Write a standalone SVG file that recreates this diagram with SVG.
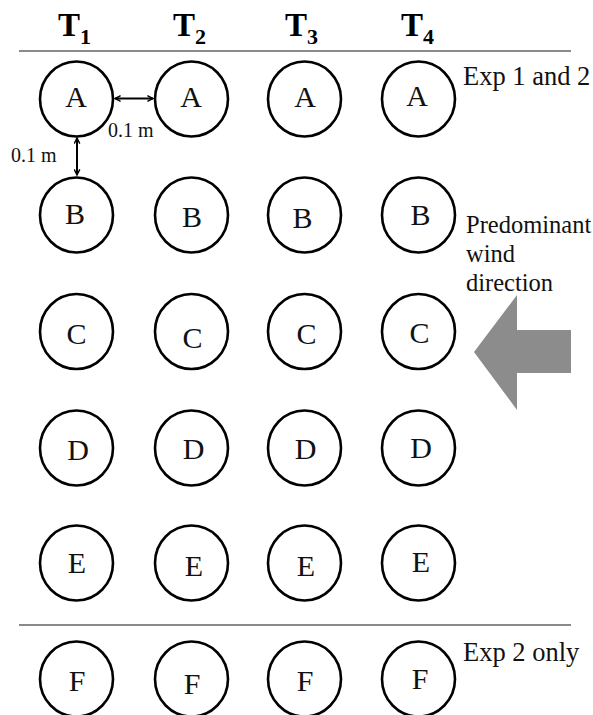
<svg xmlns="http://www.w3.org/2000/svg" width="593" height="715" viewBox="0 0 593 715">
  <style>
    .plot ellipse { fill: #ffffff; stroke: #000000; stroke-width: 2.6; }
    .plot text { font-family: "Liberation Serif", "Times New Roman", serif; font-size: 30px; fill: #111111; text-anchor: middle; }
    .head { font-family: "Liberation Serif", "Times New Roman", serif; font-weight: bold; font-size: 33px; fill: #000000; }
    .head tspan { font-size: 22px; }
    .note { font-family: "Liberation Serif", "Times New Roman", serif; font-size: 26.5px; fill: #111111; }
    .wind { font-family: "Liberation Serif", "Times New Roman", serif; font-size: 24.5px; fill: #111111; }
    .dist { font-family: "Liberation Serif", "Times New Roman", serif; font-size: 20px; fill: #111111; }
    .rule { stroke: #8a8a8a; stroke-width: 2; }
    .dim { stroke: #000000; stroke-width: 2; fill: none; marker-start: url(#tip); marker-end: url(#tip); }
  </style>
  <defs>
    <marker id="tip" viewBox="0 0 10 10" refX="9" refY="5" markerWidth="7" markerHeight="7" orient="auto-start-reverse" markerUnits="userSpaceOnUse">
      <path d="M1,1 L9,5 L1,9" fill="none" stroke="#000000" stroke-width="2"/>
    </marker>
  </defs>
  <rect width="593" height="715" fill="#ffffff"/>

  <!-- column headings -->
  <text class="head" x="58" y="36">T<tspan dy="8">1</tspan></text>
  <text class="head" x="173" y="36">T<tspan dy="8">2</tspan></text>
  <text class="head" x="285" y="36">T<tspan dy="8">3</tspan></text>
  <text class="head" x="401" y="36">T<tspan dy="8">4</tspan></text>

  <!-- separator rules -->
  <line class="rule" x1="19" y1="51" x2="571" y2="51"/>
  <line class="rule" x1="19" y1="625" x2="571" y2="625"/>

  <!-- side notes -->
  <text class="note" x="463" y="85">Exp 1 and 2</text>
  <text class="wind" x="466" y="233">Predominant</text>
  <text class="wind" x="466" y="262">wind</text>
  <text class="wind" x="466" y="291">direction</text>
  <text class="note" x="463" y="661">Exp 2 only</text>

  <!-- wind arrow -->
  <polygon points="474,352 517,295 517,330 571,330 571,373 517,373 517,410" fill="#8c8c8c"/>

  <!-- row A -->
  <g id="A1" class="plot"><ellipse cx="76.5" cy="99" rx="36.5" ry="37.5"/><text x="76" y="107">A</text></g>
  <g id="A2" class="plot"><ellipse cx="191.5" cy="99" rx="36.5" ry="37.5"/><text x="191" y="107">A</text></g>
  <g id="A3" class="plot"><ellipse cx="304.5" cy="99" rx="36.5" ry="37.5"/><text x="305" y="107">A</text></g>
  <g id="A4" class="plot"><ellipse cx="418.5" cy="99" rx="36.5" ry="37.5"/><text x="417" y="106">A</text></g>

  <!-- row B -->
  <g id="B1" class="plot"><ellipse cx="76.5" cy="215" rx="36.5" ry="37.5"/><text x="75" y="224">B</text></g>
  <g id="B2" class="plot"><ellipse cx="191.5" cy="215" rx="36.5" ry="37.5"/><text x="192" y="227">B</text></g>
  <g id="B3" class="plot"><ellipse cx="304.5" cy="215" rx="36.5" ry="37.5"/><text x="302.5" y="227.5">B</text></g>
  <g id="B4" class="plot"><ellipse cx="418.5" cy="215" rx="36.5" ry="37.5"/><text x="420.5" y="225">B</text></g>

  <!-- row C -->
  <g id="C1" class="plot"><ellipse cx="76.5" cy="331.5" rx="36.5" ry="37.5"/><text x="76.5" y="344">C</text></g>
  <g id="C2" class="plot"><ellipse cx="191.5" cy="331.5" rx="36.5" ry="37.5"/><text x="192.5" y="348">C</text></g>
  <g id="C3" class="plot"><ellipse cx="304.5" cy="331.5" rx="36.5" ry="37.5"/><text x="306.5" y="344">C</text></g>
  <g id="C4" class="plot"><ellipse cx="418.5" cy="331.5" rx="36.5" ry="37.5"/><text x="419.5" y="343">C</text></g>

  <!-- row D -->
  <g id="D1" class="plot"><ellipse cx="76.5" cy="448" rx="36.5" ry="37.5"/><text x="78" y="460">D</text></g>
  <g id="D2" class="plot"><ellipse cx="191.5" cy="448" rx="36.5" ry="37.5"/><text x="193.5" y="459">D</text></g>
  <g id="D3" class="plot"><ellipse cx="304.5" cy="448" rx="36.5" ry="37.5"/><text x="305.5" y="459">D</text></g>
  <g id="D4" class="plot"><ellipse cx="418.5" cy="448" rx="36.5" ry="37.5"/><text x="421" y="458">D</text></g>

  <!-- row E -->
  <g id="E1" class="plot"><ellipse cx="76.5" cy="563" rx="36.5" ry="37.5"/><text x="77" y="573">E</text></g>
  <g id="E2" class="plot"><ellipse cx="191.5" cy="563" rx="36.5" ry="37.5"/><text x="194" y="576">E</text></g>
  <g id="E3" class="plot"><ellipse cx="304.5" cy="563" rx="36.5" ry="37.5"/><text x="306" y="576">E</text></g>
  <g id="E4" class="plot"><ellipse cx="418.5" cy="563" rx="36.5" ry="37.5"/><text x="421" y="571.5">E</text></g>

  <!-- row F -->
  <g id="F1" class="plot"><ellipse cx="76.5" cy="679" rx="36.5" ry="37.5"/><text x="77" y="691">F</text></g>
  <g id="F2" class="plot"><ellipse cx="191.5" cy="679" rx="36.5" ry="37.5"/><text x="192" y="694">F</text></g>
  <g id="F3" class="plot"><ellipse cx="304.5" cy="679" rx="36.5" ry="37.5"/><text x="305" y="691">F</text></g>
  <g id="F4" class="plot"><ellipse cx="418.5" cy="679" rx="36.5" ry="37.5"/><text x="420" y="689">F</text></g>

  <!-- spacing dimensions -->
  <g id="connectors">
    <line class="dim" x1="115" y1="98.5" x2="153" y2="98.5"/>
    <line class="dim" x1="77" y1="138" x2="77" y2="175"/>
    <text class="dist" x="108" y="136.5">0.1 m</text>
    <text class="dist" x="11" y="161.5">0.1 m</text>
  </g>
</svg>
